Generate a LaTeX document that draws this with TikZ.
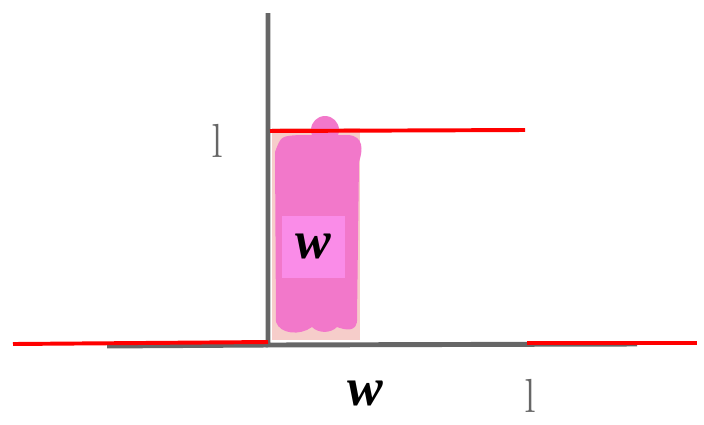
\documentclass[tikz,border=0pt]{standalone}
\usepackage{fontspec}
\setmainfont{Liberation Serif}
\newfontfamily\thinfont{Latin Modern Roman}

\begin{document}
\begin{tikzpicture}[
  x=0.025cm, y=-0.025cm,
  wall/.style={draw=cWall, line width=3.5pt},
  level/.style={draw=red, line width=2.8pt},
  sym/.style={inner sep=0pt, font=\fontsize{38}{40}\selectfont\bfseries\itshape},
  len/.style={inner sep=0pt, text=cWall, font=\fontsize{34}{40}\thinfont}
]

  % Colours
  \definecolor{cWall}{RGB}{102,102,102}
  \definecolor{cBox}{RGB}{246,205,202}
  \definecolor{cBlob}{RGB}{242,120,202}
  \definecolor{cTag}{RGB}{250,140,232}

  \useasboundingbox (0,0) rectangle (704,424);

  % Body of the block
  \fill[cBox] (272,128) rectangle (360,340);
  \fill[cBlob] (275,152) .. controls (281,136) .. (300,135) -- (348,135)
    .. controls (364,136) and (363,150) .. (359,162) -- (357,318)
    .. controls (358,333) and (345,330) .. (337,327)
    .. controls (330,334) and (318,333) .. (312,327)
    .. controls (300,336) and (280,334) .. (276,322) -- cycle;
  \fill[cBlob] (325,130) circle (14);
  \fill[cTag] (282,216) rectangle (345,278);

  % Walls
  \coordinate (corner) at (268,345);
  \draw[wall] (268,13) -- (corner) -- (637,344);
  \draw[wall] (107,346) -- (corner);

  % Red levels
  \draw[level] (13,344) -- (268,342);
  \draw[level] (527,343) -- (697,343);
  \draw[level] (270,131) -- (525,130);

  % Labels
  \node[sym] (wIn) at (313,246) {w};
  \node[sym] (wBot) at (365,393) {w};
  \node[len] (lLeft) at (217,141) {l};
  \node[len] (lBot) at (530,396) {l};

\end{tikzpicture}
\end{document}
